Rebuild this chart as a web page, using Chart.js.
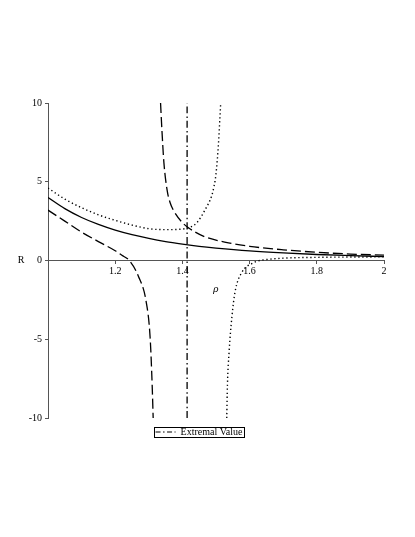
<!DOCTYPE html>
<html>
<head>
<meta charset="utf-8">
<script src="https://cdn.jsdelivr.net/npm/chart.js@4.4.1/dist/chart.umd.min.js"></script>
<style>
  html, body { margin: 0; padding: 0; background: #fff; }
</style>
</head>
<body>
<canvas id="myChart" width="415" height="537"></canvas>
<script>
// values (rho on x, R on y)
const solidRho = [1, 1.05, 1.1, 1.15, 1.2, 1.25, 1.3, 1.35, 1.4, 1.45, 1.5, 1.6, 1.7, 1.8, 1.9, 2];
const solidR = [4.0, 3.29, 2.73, 2.29, 1.93, 1.64, 1.40, 1.20, 1.04, 0.90, 0.79, 0.61, 0.48, 0.38, 0.31, 0.25];

const dashLeftRho = [1, 1.05, 1.1, 1.15, 1.2, 1.22, 1.242, 1.269, 1.292, 1.304, 1.31, 1.313];
const dashLeftR = [3.2, 2.5, 1.8, 1.2, 0.62, 0.33, 0, -1.0, -2.6, -4.9, -7.9, -10];

const dashRightRho = [1.335, 1.339, 1.345, 1.355, 1.363, 1.373, 1.398, 1.418, 1.462, 1.537, 1.6, 1.7, 1.8, 1.9, 2];
const dashRightR = [10, 8.3, 6.2, 4.4, 3.7, 3.2, 2.45, 2.08, 1.55, 1.12, 0.9, 0.68, 0.52, 0.41, 0.34];

const dotLeftRho = [1, 1.05, 1.1, 1.15, 1.2, 1.25, 1.3, 1.35, 1.39, 1.418, 1.443, 1.467, 1.487, 1.494, 1.5, 1.507, 1.512, 1.514];
const dotLeftR = [4.6, 3.9, 3.35, 2.9, 2.55, 2.25, 2.02, 1.96, 1.98, 2.08, 2.4, 3.2, 4.1, 4.7, 5.5, 7.3, 9.2, 10];

const dotRightRho = [1.532, 1.534, 1.539, 1.547, 1.557, 1.576, 1.611, 1.63, 1.65, 1.7, 1.8, 1.9, 2];
const dotRightR = [-10, -7.9, -5.8, -3.65, -1.96, -0.79, -0.15, 0, 0.06, 0.15, 0.2, 0.22, 0.23];

const extremalRho = [1.414, 1.414];
const extremalR = [-10, 10];

const xTicks = [1.2, 1.4, 1.6, 1.8, 2];
const yTicks = [-10, -5, 0, 5, 10];

const pts = (xs, ys) => xs.map((x, i) => ({ x: x, y: ys[i] }));
const serif = "'Liberation Serif', 'DejaVu Serif', serif";

const curve = (label, data, dash, width) => ({
  label: label,
  data: data,
  borderColor: "#000",
  backgroundColor: "#000",
  borderWidth: width,
  borderDash: dash,
  pointRadius: 0,
  fill: false,
  cubicInterpolationMode: "monotone"
});

// draws the frame round the legend and the R label
const extras = {
  id: "extras",
  afterDraw(chart) {
    const ctx = chart.ctx;
    const box = chart.legend.legendHitBoxes[0];
    ctx.save();
    if (box) {
      const cy = box.top + box.height / 2;
      ctx.strokeStyle = "#000";
      ctx.lineWidth = 1;
      ctx.setLineDash([]);
      ctx.strokeRect(Math.round(box.left - 2) + 0.5, Math.round(cy - 5) + 0.5,
        Math.round(box.width + 3), 10);
    }
    const y0 = chart.scales.y.getPixelForValue(0);
    ctx.fillStyle = "#000";
    ctx.font = "10px " + serif;
    ctx.textAlign = "center";
    ctx.textBaseline = "middle";
    ctx.fillText("R", 21, y0);
    ctx.restore();
  }
};

let chart;
window.onload = () => {
  const ctx = document.getElementById("myChart").getContext("2d");
  chart = new Chart(ctx, {
    type: "line",
    data: {
      datasets: [
        curve("solid", pts(solidRho, solidR), [], 1.3),
        curve("dashed", pts(dashLeftRho, dashLeftR), [10, 4], 1.3),
        curve("dashed2", pts(dashRightRho, dashRightR), [10, 4], 1.3),
        curve("dotted", pts(dotLeftRho, dotLeftR), [1.3, 2.7], 1.4),
        curve("dotted2", pts(dotRightRho, dotRightR), [1.3, 2.7], 1.4),
        curve("Extremal Value", pts(extremalRho, extremalR), [7, 3, 1.5, 3], 1.3)
      ]
    },
    options: {
      responsive: false,
      animation: false,
      layout: { padding: { left: 14, right: 31, top: 103, bottom: 90 } },
      plugins: {
        tooltip: { enabled: false },
        legend: {
          position: "bottom",
          labels: {
            usePointStyle: true,
            pointStyleWidth: 20,
            padding: 9,
            color: "#000",
            font: { family: serif, size: 10 },
            generateLabels: () => [{
              text: "Extremal Value",
              datasetIndex: 5,
              fillStyle: "#000",
              strokeStyle: "#000",
              fontColor: "#000",
              lineWidth: 1.2,
              lineDash: [5, 2.5, 1.5, 2.5],
              pointStyle: "line",
              hidden: false
            }]
          }
        }
      },
      scales: {
        x: {
          type: "linear",
          position: { y: 0 },
          min: 1,
          max: 2,
          afterBuildTicks: (scale) => { scale.ticks = xTicks.map(v => ({ value: v })); },
          ticks: {
            color: "#000",
            padding: 2,
            maxRotation: 0,
            font: { family: serif, size: 10 },
            callback: (v) => String(Number(v.toFixed(1)))
          },
          grid: { drawOnChartArea: false, tickLength: 3, color: "#555" },
          border: { color: "#555", width: 1 },
          title: {
            display: true,
            text: "ρ",
            color: "#000",
            padding: { top: 3 },
            font: { family: serif, size: 11, style: "italic" }
          }
        },
        y: {
          type: "linear",
          position: "left",
          min: -10,
          max: 10,
          afterFit: (scale) => { scale.width = 34; },
          afterBuildTicks: (scale) => { scale.ticks = yTicks.map(v => ({ value: v })); },
          ticks: {
            color: "#000",
            padding: 3,
            font: { family: serif, size: 10 }
          },
          grid: { drawOnChartArea: false, tickLength: 3, color: "#555" },
          border: { color: "#555", width: 1 }
        }
      }
    },
    plugins: [extras]
  });
};
</script>
</body>
</html>
